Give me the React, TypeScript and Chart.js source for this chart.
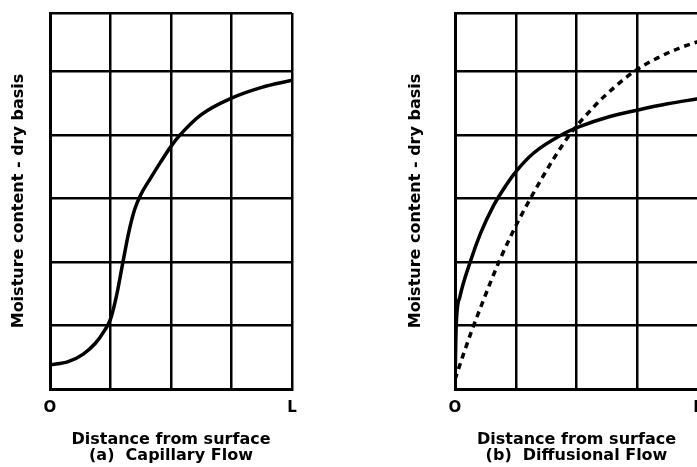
import { useEffect, useRef } from "react";
import { Chart, registerables } from "chart.js";

Chart.register(...registerables);

// Grid positions (columns across the slab, rows of moisture content)
const xGrid = [0, 1, 2, 3, 4];
const yGrid = [0, 1, 2, 3, 4, 5, 5.92];
const xTickText = ["O", "", "", "", "L"];

const yTitle = "Moisture content - dry basis";
const xTitleA = ["Distance from surface", "(a)  Capillary Flow"];
const xTitleB = ["Distance from surface", "(b)  Diffusional Flow"];

// (a) capillary flow profile
const capX = [0, 0.3, 0.55, 0.75, 0.9, 1.0, 1.1, 1.2, 1.3, 1.4, 1.5, 1.65, 1.82, 2.0, 2.15, 2.5, 3.0, 3.5, 4.0];
const capY = [0.38, 0.43, 0.55, 0.72, 0.92, 1.1, 1.47, 1.97, 2.46, 2.83, 3.06, 3.3, 3.56, 3.82, 4.0, 4.32, 4.58, 4.75, 4.86];

// (b) diffusional flow, solid profile
const difSolidX = [0, 0.02, 0.08, 0.25, 0.42, 0.63, 0.8, 1.0, 1.3, 1.75, 2.05, 2.55, 3.0, 3.5, 4.0];
const difSolidY = [0.05, 1.0, 1.45, 2.0, 2.45, 2.88, 3.15, 3.42, 3.72, 4.0, 4.13, 4.29, 4.39, 4.49, 4.57];

// (b) diffusional flow, dashed profile
const difDashX = [0, 0.14, 0.28, 0.44, 0.58, 0.75, 0.93, 1.05, 1.23, 1.42, 1.62, 1.9, 2.1, 2.45, 2.95, 3.35, 3.7, 4.0];
const difDashY = [0.15, 0.55, 0.93, 1.33, 1.67, 2.06, 2.43, 2.66, 2.98, 3.3, 3.62, 4.02, 4.25, 4.6, 5.0, 5.22, 5.37, 5.47];

const FONT = "'DejaVu Sans', sans-serif";

type Series = { xs: number[]; ys: number[]; dashed?: boolean };

function Panel(props: {
  left: number;
  width: number;
  padRight: number;
  yTitleGap: number;
  xTitle: string[];
  series: Series[];
}) {
  const ref = useRef<HTMLCanvasElement>(null);

  useEffect(() => {
    const chart = new Chart(ref.current!, {
      type: "line",
      data: {
        datasets: props.series.map((s) => ({
          data: s.xs.map((x, i) => ({ x, y: s.ys[i] })),
          borderColor: "#000",
          borderWidth: 3.5,
          borderDash: s.dashed ? [6, 5] : [],
          pointRadius: 0,
          cubicInterpolationMode: "monotone" as const,
          fill: false,
        })),
      },
      options: {
        responsive: false,
        animation: false,
        devicePixelRatio: 1,
        layout: { padding: { left: 0, right: props.padRight, top: 13, bottom: 0 } },
        plugins: { legend: { display: false }, tooltip: { enabled: false } },
        scales: {
          x: {
            type: "linear",
            min: 0,
            max: 4,
            afterBuildTicks: (s: any) => {
              s.ticks = xGrid.map((v) => ({ value: v }));
            },
            afterFit: (s: any) => {
              s.height = 78;
            },
            grid: { color: "#000", lineWidth: 2.5, drawTicks: false },
            border: { color: "#000", width: 3 },
            ticks: {
              padding: 10,
              color: "#000",
              autoSkip: false,
              maxRotation: 0,
              font: { family: FONT, size: 15, weight: "bold" },
              callback: (_v: any, i: number) => xTickText[i],
            },
            title: {
              display: true,
              text: props.xTitle,
              color: "#000",
              font: { family: FONT, size: 16, weight: "bold", lineHeight: 1.0 },
              padding: { top: 0, bottom: 3 },
            },
          },
          y: {
            type: "linear",
            min: 0,
            max: 5.92,
            afterBuildTicks: (s: any) => {
              s.ticks = yGrid.map((v) => ({ value: v }));
            },
            afterFit: (s: any) => {
              s.width = 50;
            },
            grid: { color: "#000", lineWidth: 2.5, drawTicks: false },
            border: { color: "#000", width: 3 },
            ticks: { display: false },
            title: {
              display: true,
              text: yTitle,
              color: "#000",
              font: { family: FONT, size: 16, weight: "bold", lineHeight: 1.2 },
              padding: { top: props.yTitleGap, bottom: 0 },
            },
          },
        },
      },
    });
    return () => chart.destroy();
  }, []);

  return (
    <canvas
      ref={ref}
      width={props.width}
      height={467}
      style={{ position: "absolute", left: props.left, top: 0 }}
    />
  );
}

export default function App() {
  return (
    <div
      style={{
        position: "fixed",
        left: 0,
        top: 0,
        width: 697,
        height: 467,
        overflow: "hidden",
        background: "#fff",
      }}
    >
      <Panel
        left={0}
        width={340}
        padRight={48}
        yTitleGap={9}
        xTitle={xTitleA}
        series={[{ xs: capX, ys: capY }]}
      />
      <Panel
        left={405}
        width={340}
        padRight={47}
        yTitleGap={1}
        xTitle={xTitleB}
        series={[
          { xs: difSolidX, ys: difSolidY },
          { xs: difDashX, ys: difDashY, dashed: true },
        ]}
      />
    </div>
  );
}
